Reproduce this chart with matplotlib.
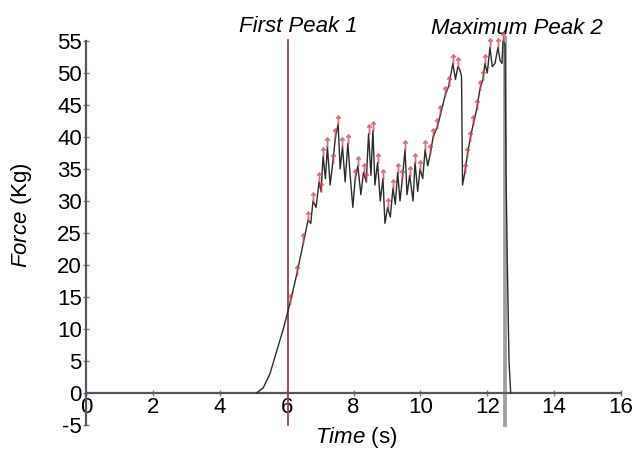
import numpy as np
import matplotlib
matplotlib.use('Agg')
from matplotlib import pyplot as plt

plt.rcParams['font.family'] = ['Liberation Sans', 'DejaVu Sans']
plt.rcParams['mathtext.fontset'] = 'custom'
plt.rcParams['mathtext.rm'] = 'Liberation Sans'
plt.rcParams['mathtext.it'] = 'Liberation Sans:italic'
plt.rcParams['axes.unicode_minus'] = False

# force curve
time = [5.10, 5.30, 5.50, 5.70, 5.90, 6.00, 6.10, 6.30, 6.50, 6.64,
        6.72, 6.79, 6.88, 6.97, 7.03, 7.09, 7.16, 7.22, 7.30, 7.38,
        7.46, 7.54, 7.60, 7.67, 7.75, 7.83, 7.90, 7.98, 8.05, 8.13,
        8.22, 8.30, 8.38, 8.45, 8.52, 8.58, 8.64, 8.72, 8.80, 8.88,
        8.94, 9.02, 9.10, 9.18, 9.25, 9.32, 9.39, 9.46, 9.54, 9.60,
        9.68, 9.78, 9.84, 9.92, 9.99, 10.07, 10.14, 10.22, 10.30, 10.38,
        10.50, 10.60, 10.74, 10.85, 10.97, 11.05, 11.12, 11.18, 11.23, 11.26,
        11.33, 11.40, 11.48, 11.58, 11.69, 11.78, 11.87, 11.93, 12.00, 12.08,
        12.15, 12.23, 12.32, 12.38, 12.44, 12.47, 12.53, 12.56, 12.60, 12.65,
        12.70]
force = [0.0, 0.8, 3.0, 6.5, 10.0, 12.0, 14.0, 18.5, 23.5, 27.0,
         26.5, 30.0, 29.0, 33.0, 31.5, 37.0, 33.5, 38.5, 32.5, 36.0,
         40.0, 42.0, 35.0, 38.5, 33.0, 39.0, 34.0, 29.0, 33.5, 35.5,
         31.0, 34.5, 33.0, 40.5, 34.0, 41.0, 32.5, 36.0, 30.0, 33.5,
         26.5, 29.0, 27.5, 32.0, 29.5, 34.5, 30.0, 33.5, 38.0, 31.0,
         34.0, 30.0, 36.0, 31.5, 35.0, 33.5, 38.0, 35.5, 37.5, 40.0,
         41.5, 43.5, 46.5, 48.0, 51.5, 49.0, 51.0, 50.5, 49.5, 32.5,
         34.5, 37.0, 39.5, 42.0, 44.5, 47.5, 49.0, 51.5, 50.0, 54.0,
         51.0, 51.5, 54.0, 52.0, 51.5, 55.0, 54.5, 35.0, 20.0, 5.0,
         0.0]

first_peak_t = 6.03
max_peak_t = 12.53
xticks = list(range(0, 17, 2))
yticks = list(range(-5, 56, 5))

t = np.array(time)
f = np.array(force)
# peak markers: local maxima plus points on the steep rising stretches
is_peak = np.zeros(len(f), dtype=bool)
is_peak[1:-1] = (f[1:-1] >= f[:-2]) & (f[1:-1] >= f[2:])
is_peak |= (t >= 6.05) & (t <= 12.5) & (np.gradient(f) > 1.5)

fig = plt.figure(figsize=[6.38, 4.54], dpi=100)
ax = fig.add_axes([0.1348, 0.0639, 0.8386, 0.8458])

ax.plot([first_peak_t, first_peak_t], [-5, 55.2], color='#8a4848', lw=1.3,
        zorder=2, clip_on=False)
ax.plot([max_peak_t, max_peak_t], [-5, 55.5], color='#a0a0a0', lw=2.8,
        zorder=2, clip_on=False)
ax.plot(t, f, color='#2a2a2a', lw=1.0, zorder=3, clip_on=False)
ax.plot(t[is_peak], f[is_peak] + 0.7, ls='none', marker=r'$\uparrow$',
        color='#d04858', ms=7, alpha=0.6, zorder=4, clip_on=False)

ax.set_xlim(0, 16)
ax.set_ylim(-5, 55)
ax.set_xticks(xticks)
ax.set_yticks(yticks)
ax.spines['left'].set_position(('data', 0))
ax.spines['bottom'].set_position(('data', 0))
ax.spines['top'].set_visible(False)
ax.spines['right'].set_visible(False)
for s in ('left', 'bottom'):
    ax.spines[s].set_color('#555566')
    ax.spines[s].set_linewidth(1.6)
ax.tick_params(direction='inout', length=4, width=1, color='#777788',
               labelsize=16, pad=1)

ax.text(6.34, 57.3, 'First Peak 1', style='italic', fontsize=16,
        ha='center', va='center', clip_on=False)
ax.text(12.9, 57.0, 'Maximum Peak 2', style='italic', fontsize=16,
        ha='center', va='center', clip_on=False)

fig.text(356 / 638, 1 - 438 / 454, r'$\mathit{Time}$ (s)', fontsize=16,
         ha='center', va='center')
fig.text(22 / 638, 1 - 215 / 454, r'$\mathit{Force}$ (Kg)', fontsize=16,
         ha='center', va='center', rotation=90)

fig.savefig('out.png', dpi=100)
